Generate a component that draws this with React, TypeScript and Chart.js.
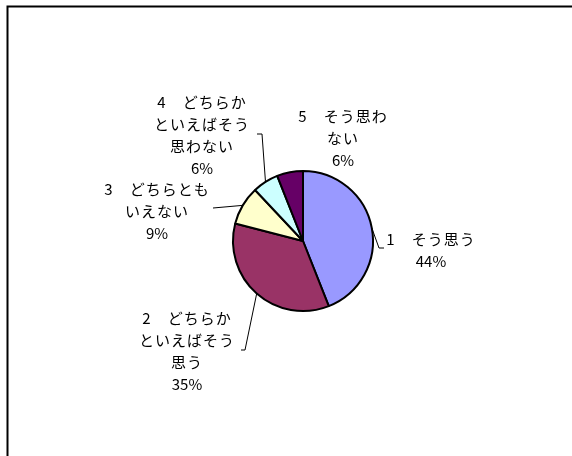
import React, { useEffect, useRef } from "react";
import { Chart, registerables } from "chart.js";

Chart.register(...registerables);

// ---- data ----
const categories = [
  "1　そう思う",
  "2　どちらか\nといえばそう\n思う",
  "3　どちらとも\nいえない",
  "4　どちらか\nといえばそう\n思わない",
  "5　そう思わ\nない",
];
const values = [44, 35, 9, 6, 6];
const colors = ["#9999FF", "#993366", "#FFFFCC", "#CCFFFF", "#660066"];

// ---- layout (label block centres and leader elbows, relative to pie centre) ----
const labelOffsets: [number, number][] = [
  [128, 9.5],
  [-116, 110.5],
  [-146, -30],
  [-101, -106],
  [40, -102.5],
];
const leaderElbows: [number, number][][] = [
  [[76, 7], [81, 7]],
  [[-58, 109], [-62, 109]],
  [[-90, -33]],
  [[-41, -107], [-46, -107]],
  [],
];

const FONT = '15px "Noto Sans CJK JP", "Noto Sans", sans-serif';
const LINE_H = 22;

const labelPlugin = {
  id: "pieLabels",
  afterDatasetsDraw(chart: any) {
    const ctx = chart.ctx as CanvasRenderingContext2D;
    const meta = chart.getDatasetMeta(0);
    const data = chart.data.datasets[0].data as number[];
    const total = data.reduce((a, b) => a + b, 0);
    ctx.save();
    meta.data.forEach((arc: any, i: number) => {
      const { x, y, outerRadius, startAngle, endAngle } = arc.getProps(
        ["x", "y", "outerRadius", "startAngle", "endAngle"],
        true
      );
      const mid = (startAngle + endAngle) / 2;
      const ex = x + Math.cos(mid) * outerRadius;
      const ey = y + Math.sin(mid) * outerRadius;
      const elbows = leaderElbows[i];
      if (elbows.length) {
        ctx.beginPath();
        ctx.strokeStyle = "#000";
        ctx.lineWidth = 1;
        ctx.moveTo(ex, ey);
        elbows.forEach(([dx, dy]) => ctx.lineTo(x + dx, y + dy));
        ctx.stroke();
      }
      const lines = String(chart.data.labels[i]).split("\n");
      const pct = Math.round((data[i] / total) * 100) + "%";
      const all = [...lines, pct];
      const [ox, oy] = labelOffsets[i];
      const cx = x + ox;
      const top = y + oy - ((all.length - 1) * LINE_H) / 2;
      ctx.font = FONT;
      ctx.fillStyle = "#000";
      ctx.textAlign = "center";
      ctx.textBaseline = "middle";
      all.forEach((t, k) => {
        (ctx as any).letterSpacing = k < lines.length ? "1px" : "0px";
        ctx.fillText(t, cx, top + k * LINE_H);
      });
      (ctx as any).letterSpacing = "0px";
    });
    ctx.restore();
  },
};

const framePlugin = {
  id: "frame",
  beforeDraw(chart: any) {
    const ctx = chart.ctx as CanvasRenderingContext2D;
    ctx.save();
    ctx.fillStyle = "#fff";
    ctx.fillRect(0, 0, chart.width, chart.height);
    ctx.strokeStyle = "#000";
    ctx.lineWidth = 2;
    ctx.strokeRect(7.5, 6.5, 700, 600);
    ctx.restore();
  },
};

export default function App() {
  const ref = useRef<HTMLCanvasElement>(null);
  useEffect(() => {
    if (!ref.current) return;
    const chart = new Chart(ref.current, {
      type: "pie",
      data: {
        labels: categories,
        datasets: [
          {
            data: values,
            backgroundColor: colors,
            borderColor: "#000",
            borderWidth: 2,
            radius: 70,
          } as any,
        ],
      },
      options: {
        responsive: false,
        animation: false,
        devicePixelRatio: 1,
        layout: { padding: { left: 34, top: 26, right: 0, bottom: 0 } },
        plugins: {
          legend: { display: false },
          tooltip: { enabled: false },
        },
      },
      plugins: [framePlugin, labelPlugin],
    });
    return () => chart.destroy();
  }, []);
  return (
    <div style={{ position: "fixed", left: 0, top: 0, width: 572, height: 456 }}>
      <canvas ref={ref} width={572} height={456} style={{ width: 572, height: 456, display: "block" }} />
    </div>
  );
}
